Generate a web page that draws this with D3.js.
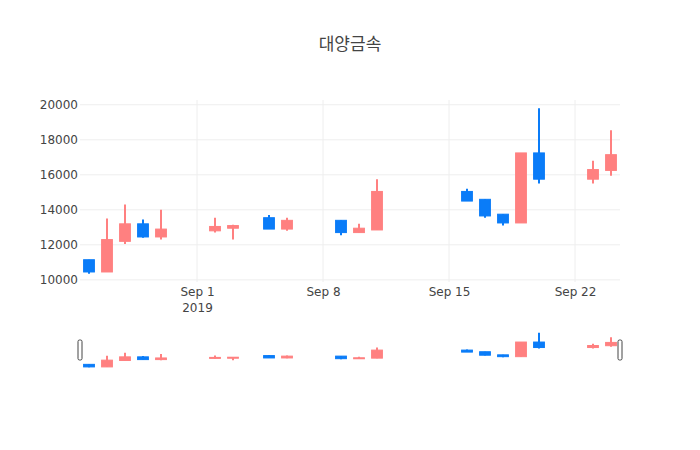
<!DOCTYPE html>
<html>
<head>
<meta charset="utf-8">
<script src="https://cdn.jsdelivr.net/npm/d3@7"></script>
<style>
  html, body { margin: 0; padding: 0; background: #fff; }
  svg { display: block; }
</style>
</head>
<body>
<div id="chart"></div>
<script>
const title = "대양금속";
const dates = ["2019-08-26","2019-08-27","2019-08-28","2019-08-29","2019-08-30",
  "2019-09-02","2019-09-03","2019-09-05","2019-09-06",
  "2019-09-09","2019-09-10","2019-09-11",
  "2019-09-16","2019-09-17","2019-09-18","2019-09-19","2019-09-20",
  "2019-09-23","2019-09-24"];
const open  = [11150,10450,12200,13200,12450,12800,12950,13550,12900,13400,12700,12850,15050,14600,13750,13250,17250,15750,16250];
const high  = [11150,13500,14300,13450,14000,13550,13150,13700,13550,13400,13200,15750,15200,14600,13750,17250,19800,16800,18550];
const low   = [10350,10450,12050,12400,12300,12700,12300,12900,12800,12550,12700,12850,14500,13550,13100,13250,15500,15500,15950];
const close = [10450,12300,13200,12450,12900,13050,13100,12900,13400,12700,12950,15050,14500,13650,13250,17250,15750,16300,17150];
const yTicks = [10000,12000,14000,16000,18000,20000];
const xTicks = ["2019-09-01","2019-09-08","2019-09-15","2019-09-22"];

const incColor = "#ff8080";
const decColor = "#0a7cf8";

(function () {
const W = 700, H = 450;
const mLeft = 80, mRight = 620, mTop = 100, mainBottom = 282;
const slTop = 330, slBottom = 370;

const parse = d3.utcParse("%Y-%m-%d");
const data = dates.map((d, i) => ({ date: parse(d), o: open[i], h: high[i], l: low[i], c: close[i] }));

const DAY = 864e5;
const x = d3.scaleUtc()
  .domain([new Date(+data[0].date - DAY / 2), new Date(+data[data.length - 1].date + DAY / 2)])
  .range([mLeft, mRight]);

const yMin = d3.min(low), yMax = d3.max(high);
const pad = (yMax - yMin) * 0.05;
const y = d3.scaleLinear().domain([yMin - pad, yMax + pad]).range([mainBottom, mTop]);
const ys = d3.scaleLinear().domain([yMin - pad, yMax + pad]).range([slBottom - 1, slTop + 1]);

const svg = d3.select("#chart").append("svg").attr("width", W).attr("height", H);
const font = "'DejaVu Sans', verdana, arial, sans-serif";

// grid
svg.append("g").selectAll("line").data(yTicks).join("line")
  .attr("x1", mLeft).attr("x2", mRight)
  .attr("y1", d => y(d)).attr("y2", d => y(d))
  .attr("stroke", "#eee").attr("stroke-width", 1);
svg.append("g").selectAll("line").data(xTicks.map(parse)).join("line")
  .attr("x1", d => x(d)).attr("x2", d => x(d))
  .attr("y1", mTop).attr("y2", mainBottom)
  .attr("stroke", "#eee").attr("stroke-width", 1);

// y axis labels
const yAxis = d3.axisLeft(y).tickValues(yTicks).tickSize(0).tickPadding(2).tickFormat(d3.format("d"));
const gy = svg.append("g").attr("transform", `translate(${mLeft},0)`).call(yAxis);
gy.select(".domain").remove();
gy.selectAll("text").attr("font-family", font).attr("font-size", 12).attr("fill", "#444");

// x axis labels
const fmt = d3.utcFormat("%b %-d");
const xAxis = d3.axisBottom(x).tickValues(xTicks.map(parse)).tickSize(0).tickPadding(5).tickFormat(d => fmt(d));
const gx = svg.append("g").attr("transform", `translate(0,${mainBottom})`).call(xAxis);
gx.select(".domain").remove();
gx.selectAll("text").attr("font-family", font).attr("font-size", 12).attr("fill", "#444");
gx.selectAll(".tick").filter((d, i) => i === 0).append("text")
  .attr("y", 21).attr("dy", "0.71em").attr("text-anchor", "middle")
  .attr("font-family", font).attr("font-size", 12).attr("fill", "#444")
  .text(d => d3.utcFormat("%Y")(d));

const bw = (x(new Date(DAY)) - x(new Date(0))) * 0.6;

function drawCandles(g, yScale, wickW) {
  const c = g.selectAll("g.c").data(data).join("g").attr("class", "c");
  c.append("line")
    .attr("x1", d => x(d.date)).attr("x2", d => x(d.date))
    .attr("y1", d => yScale(d.h)).attr("y2", d => yScale(d.l))
    .attr("stroke", d => d.c >= d.o ? incColor : decColor)
    .attr("stroke-width", wickW);
  c.append("rect")
    .attr("x", d => x(d.date) - bw / 2)
    .attr("width", bw)
    .attr("y", d => yScale(Math.max(d.o, d.c)))
    .attr("height", d => Math.max(1, Math.abs(yScale(d.o) - yScale(d.c))))
    .attr("fill", d => d.c >= d.o ? incColor : decColor)
    .attr("stroke", d => d.c >= d.o ? incColor : decColor)
    .attr("stroke-width", 1);
}

drawCandles(svg.append("g"), y, 2);

// range slider
const sl = svg.append("g");
sl.append("rect").attr("x", mLeft).attr("y", slTop).attr("width", mRight - mLeft).attr("height", slBottom - slTop).attr("fill", "#fff");
drawCandles(sl.append("g"), ys, 2);
const hh = 20, hw = 4;
[mLeft, mRight].forEach(px => {
  sl.append("rect")
    .attr("x", px - hw / 2).attr("y", (slTop + slBottom) / 2 - hh / 2)
    .attr("width", hw).attr("height", hh)
    .attr("rx", 1.5).attr("ry", 1.5)
    .attr("fill", "#fff").attr("stroke", "#444").attr("stroke-width", 1);
});

// title
svg.append("text").attr("x", W / 2).attr("y", 50).attr("text-anchor", "middle")
  .attr("font-family", "'Noto Sans CJK KR', 'Open Sans', sans-serif").attr("font-size", 17).attr("fill", "#444")
  .text(title);
})();
</script>
</body>
</html>
